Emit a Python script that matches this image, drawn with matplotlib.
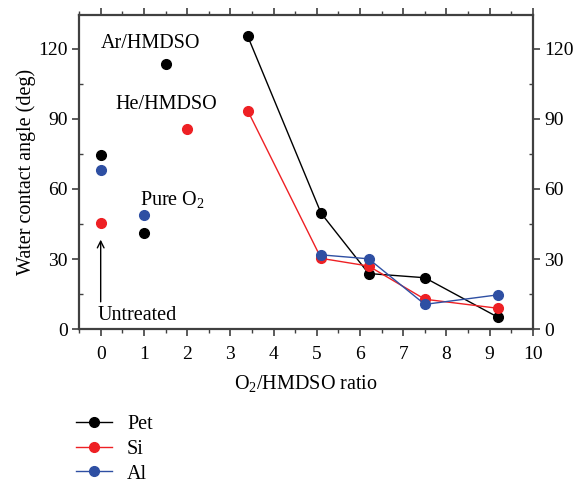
import matplotlib
matplotlib.use("Agg")
import matplotlib.pyplot as plt
from matplotlib.ticker import MultipleLocator

plt.rcParams['font.family'] = ['Liberation Serif', 'DejaVu Serif']
plt.rcParams['mathtext.fontset'] = 'custom'
plt.rcParams['mathtext.rm'] = 'Liberation Serif'

# connected series (O2/HMDSO ratio)
ratio = [3.4, 5.1, 6.2, 7.5, 9.2]
pet = [125.5, 49.6, 23.8, 22.0, 5.0]
si = [93.6, 30.3, 27.0, 12.8, 8.9]
al = [None, 31.8, 30.1, 10.6, 14.7]

# isolated points: untreated (x=0), pure O2 (x=1), Ar/HMDSO (1.5), He/HMDSO (2)
pet_x = [0, 1, 1.5]
pet_y = [74.6, 41.3, 113.5]
si_x = [0, 2]
si_y = [45.6, 85.6]
al_x = [0, 1]
al_y = [68.0, 49.0]

black = '#000000'
red = '#ee2024'
blue = '#2e4fa3'

fig = plt.figure(figsize=(5.73, 4.84), dpi=100)
ax = fig.add_axes([0.138, 0.320, 0.792, 0.649])

ms = 7
ax.plot(ratio, pet, '-o', color=black, lw=1, ms=ms, label='Pet')
ax.plot(ratio, si, '-o', color=red, lw=1, ms=ms, label='Si')
ax.plot(ratio[1:], al[1:], '-o', color=blue, lw=1, ms=ms, label='Al')
ax.plot(pet_x, pet_y, 'o', color=black, ms=ms)
ax.plot(si_x, si_y, 'o', color=red, ms=ms)
ax.plot(al_x, al_y, 'o', color=blue, ms=ms)

fs = 14.5
ax.text(0.0, 122.5, 'Ar/HMDSO', fontsize=fs, va='center', ha='left')
ax.text(0.33, 96, 'He/HMDSO', fontsize=fs, va='center', ha='left')
ax.text(0.9, 55, 'Pure O$_2$', fontsize=fs, va='center', ha='left')
ax.text(-0.08, 6, 'Untreated', fontsize=fs, va='center', ha='left')
ax.annotate('', xy=(0, 39.5), xytext=(0, 10.5),
            arrowprops=dict(arrowstyle='->', color='black', lw=1, mutation_scale=12))

ax.set_xlim(-0.5, 10)
ax.set_ylim(0, 134.5)
ax.xaxis.set_major_locator(MultipleLocator(1))
ax.xaxis.set_minor_locator(MultipleLocator(0.5))
ax.yaxis.set_major_locator(MultipleLocator(30))
ax.yaxis.set_minor_locator(MultipleLocator(15))

ax.tick_params(which='both', top=True, right=True, labelright=True,
               labelsize=14, color='#404040')
ax.tick_params(axis='x', which='major', direction='out', length=5, width=1.2, pad=7)
ax.tick_params(axis='x', which='minor', direction='out', length=3, width=1)
ax.tick_params(axis='y', which='major', direction='out', length=5, width=1.2, pad=3)
ax.tick_params(axis='y', which='minor', direction='in', length=3, width=1)
for sp in ax.spines.values():
    sp.set_linewidth(1.6)
    sp.set_color('#404040')

ax.set_xlabel('O$_2$/HMDSO ratio', fontsize=fs, labelpad=8)
ax.set_ylabel('Water contact angle (deg)', fontsize=fs, labelpad=2)

handles, labels = ax.get_legend_handles_labels()
fig.legend(handles, labels, loc='upper left', bbox_to_anchor=(0.125, 0.151),
           bbox_transform=fig.transFigure, frameon=False, fontsize=fs,
           handlelength=1.8, handletextpad=0.75, labelspacing=0.28,
           borderaxespad=0, borderpad=0.2)

fig.savefig('out.png', dpi=100)
